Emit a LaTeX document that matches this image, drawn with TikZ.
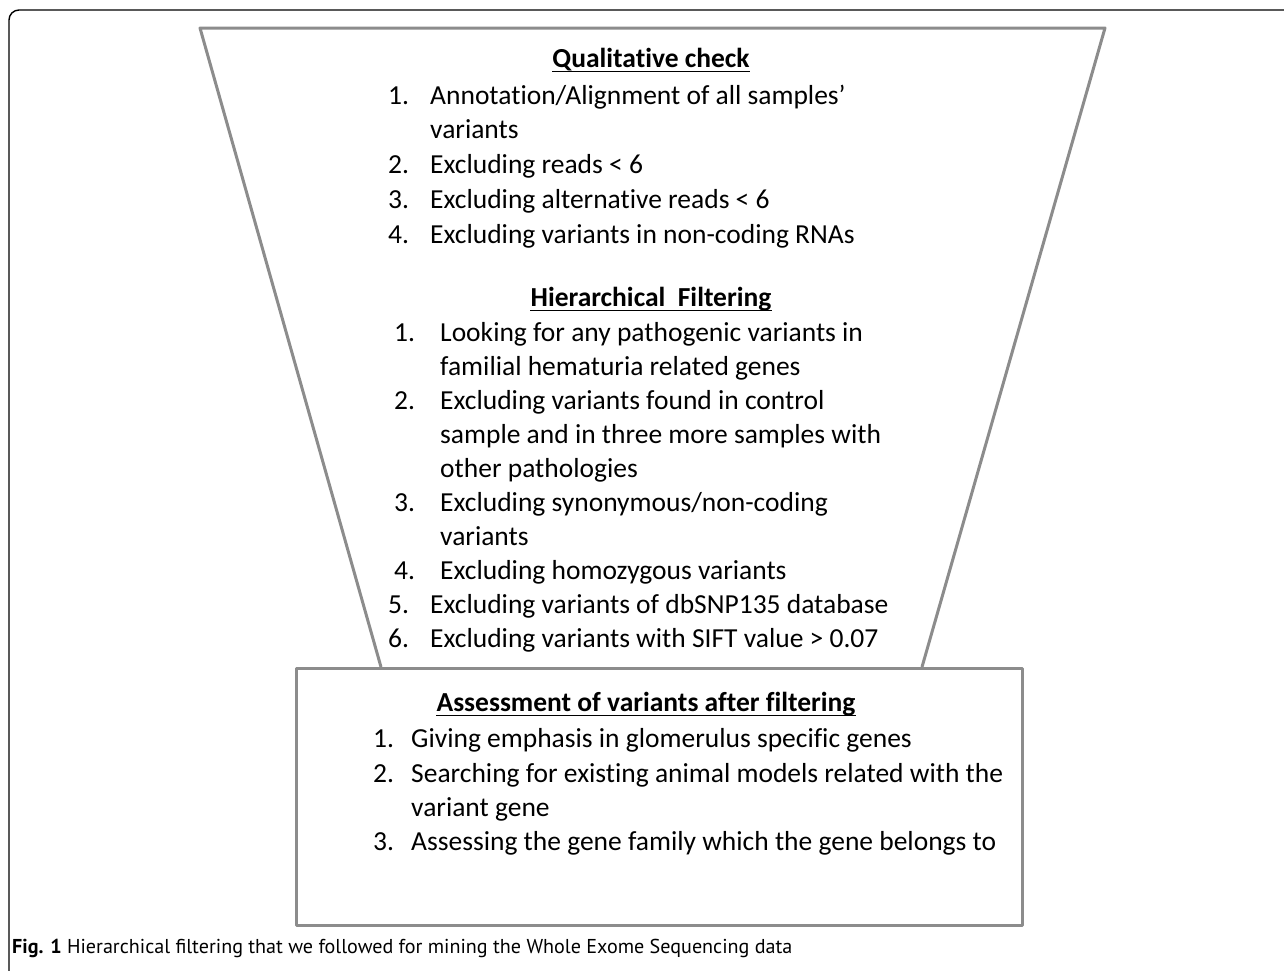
\documentclass[tikz,border=0pt]{standalone}
\usepackage{fontspec}
\setmainfont{Carlito}[Ligatures=NoCommon]
\newfontfamily\capfont{PT Sans}
\definecolor{shapegray}{HTML}{8C8C8C}
\begin{document}
\begin{tikzpicture}[x=1pt,y=-1pt,
  txt/.style={anchor=base west, inner sep=0pt, font=\fontsize{27.5}{33}\selectfont},
  num/.style={anchor=base west, inner sep=0pt, font=\fontsize{27.5}{33}\selectfont},
  ttl/.style={anchor=base, inner sep=0pt, font=\fontsize{27.5}{33}\selectfont\bfseries},
  uline/.style={line width=1.8pt},
  shapeline/.style={draw=shapegray, line width=3pt, line join=round}]
\useasboundingbox (0,0) rectangle (1284,970);
% outer frame
\draw[line width=1.4pt, rounded corners=10pt] (1295,10) -- (9,10) -- (9,980);
% funnel
\draw[shapeline] (381,667) -- (200,28) -- (1105,28) -- (922,667);
% assessment box
\draw[shapeline, fill=white] (296,668) rectangle (1022,925);

% Qualitative check
\node[ttl] (qt) at (651,67) {Qualitative check};
\draw[uline] ([yshift=-4.5pt]qt.base west) -- ([yshift=-4.5pt]qt.base east);
\node[num] (qn1) at (388,104) {1.};
\node[txt] (qa1) at (430,104) {Annotation/Alignment of all samples’};
\node[txt] (qb1) at (430,138) {variants};
\node[num] (qn2) at (388,173) {2.};
\node[txt] (qa2) at (430,173) {Excluding reads < 6};
\node[num] (qn3) at (388,208) {3.};
\node[txt] (qa3) at (430,208) {Excluding alternative reads < 6};
\node[num] (qn4) at (388,243) {4.};
\node[txt] (qa4) at (430,243) {Excluding variants in non-coding RNAs};

% Hierarchical filtering
\node[ttl] (ht) at (651,306) {Hierarchical\ \ Filtering};
\draw[uline] ([yshift=-4.5pt]ht.base west) -- ([yshift=-4.5pt]ht.base east);
\node[num] (hn1) at (394,341) {1.};
\node[txt] (ha1) at (440,341) {Looking for any pathogenic variants in};
\node[txt] (hb1) at (440,375) {familial hematuria related genes};
\node[num] (hn2) at (394,409) {2.};
\node[txt] (ha2) at (440,409) {Excluding variants found in control};
\node[txt] (hb2) at (440,443) {sample and in three more samples with};
\node[txt] (hc2) at (440,477) {other pathologies};
\node[num] (hn3) at (394,511) {3.};
\node[txt] (ha3) at (440,511) {Excluding synonymous/non-coding};
\node[txt] (hb3) at (440,545) {variants};
\node[num] (hn4) at (394,579) {4.};
\node[txt] (ha4) at (440,579) {Excluding homozygous variants};
\node[num] (hn5) at (388,613) {5.};
\node[txt] (ha5) at (430,613) {Excluding variants of dbSNP135 database};
\node[num] (hn6) at (388,647) {6.};
\node[txt] (ha6) at (430,647) {Excluding variants with SIFT value > 0.07};

% Assessment
\node[ttl] (at) at (646,711) {Assessment of variants after filtering};
\draw[uline] ([yshift=-4.5pt]at.base west) -- ([yshift=-4.5pt]at.base east);
\node[num] (an1) at (373,747) {1.};
\node[txt] (aa1) at (411,747) {Giving emphasis in glomerulus specific genes};
\node[num] (an2) at (373,782) {2.};
\node[txt] (aa2) at (411,782) {Searching for existing animal models related with the};
\node[txt] (ab2) at (411,816) {variant gene};
\node[num] (an3) at (373,850) {3.};
\node[txt] (aa3) at (411,850) {Assessing the gene family which the gene belongs to};

% caption
\node[anchor=base west, inner sep=0pt, font=\capfont\fontsize{20.1}{23}\selectfont] (cap) at (12,953)
  {\textbf{Fig. 1} Hierarchical filtering that we followed for mining the Whole Exome Sequencing data};
\end{tikzpicture}
\end{document}
